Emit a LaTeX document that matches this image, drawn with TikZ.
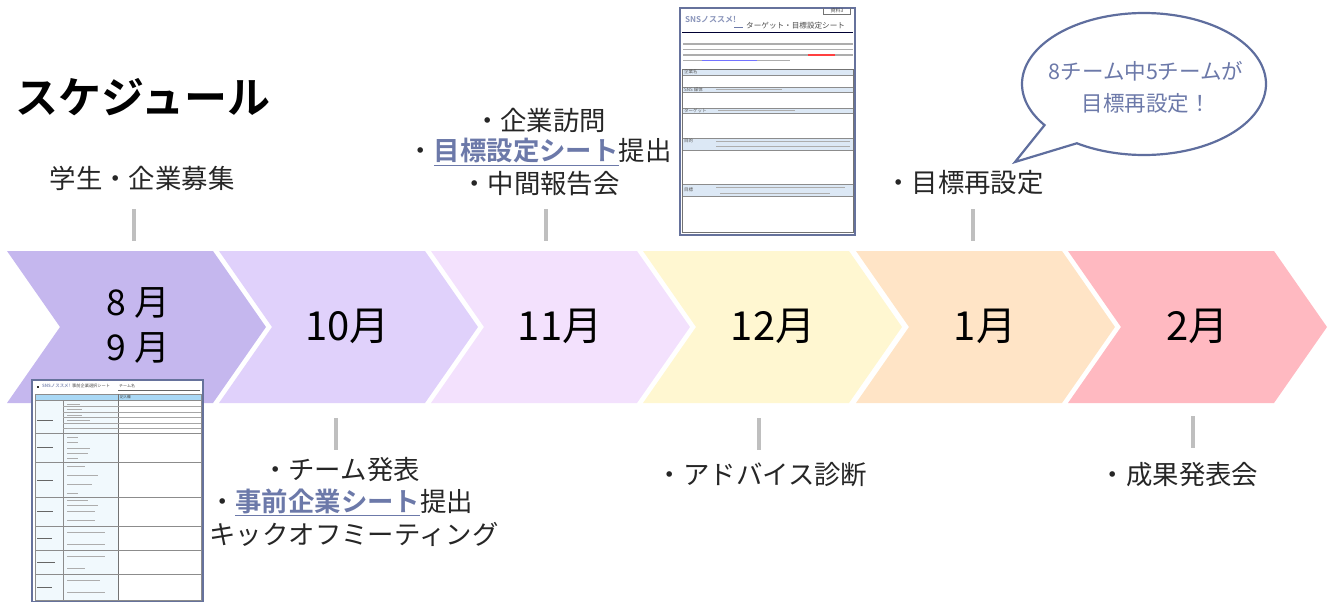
\documentclass[tikz,border=0pt]{standalone}
\usepackage{fontspec}
\setmainfont{Noto Sans CJK JP}[BoldFont={Noto Sans CJK JP Bold}]
\usetikzlibrary{calc}
\definecolor{cA}{HTML}{C5B7EE}
\definecolor{cB}{HTML}{E0D1FB}
\definecolor{cC}{HTML}{F3E1FD}
\definecolor{cD}{HTML}{FFF7D1}
\definecolor{cE}{HTML}{FFE4C6}
\definecolor{cF}{HTML}{FFB9C1}
\definecolor{accent}{HTML}{6C79A9}
\definecolor{bubbleline}{HTML}{5F6E9E}
\definecolor{sheetline}{HTML}{66729C}
\definecolor{tick}{HTML}{BFBFBF}
\definecolor{band}{HTML}{DCE8F5}
\definecolor{hdr}{HTML}{A9D8F5}
\definecolor{tint}{HTML}{F1F9FD}
\definecolor{tiny}{HTML}{8A8A8A}
\newcommand{\chev}[2]{\fill[#2] (#1,251) -- ++(206,0) -- ++(53,76) -- ++(-53,76) -- ++(-206,0) -- ++(53,-76) -- cycle;}
\newcommand{\hl}[1]{\textcolor{accent}{\underline{\textbf{#1}}}}
\tikzset{
  month/.style={font=\fontsize{40}{45}\selectfont,text=black,align=center,inner sep=0pt},
  monthsmall/.style={month,font=\fontsize{35.5}{45}\selectfont},
  label/.style={font=\fontsize{26.4}{32}\selectfont,text=black!85,inner sep=0pt,align=center},
  tickline/.style={draw=tick,line width=4pt},
  sheet/.style={draw=sheetline,line width=2pt,fill=white},
  tinytext/.style={font=\fontsize{4.5}{5}\selectfont,text=black!65,inner sep=0pt,anchor=west},
  blur/.style={draw=tiny!70,line width=1.2pt},
  grid/.style={draw=black!45,line width=.6pt}
}
\begin{document}
\begin{tikzpicture}[x=1pt,y=-1pt]
\useasboundingbox (0,0) rectangle (1336,602);
\chev{7}{cA}
\chev{219}{cB}
\chev{431}{cC}
\chev{643}{cD}
\chev{856}{cE}
\chev{1068}{cF}

\node[monthsmall] (m1) at (138,303) {8 月};
\node[monthsmall] (m2) at (138,348) {9 月};
\node[month] (m3) at (347.5,326) {10月};
\node[month] (m4) at (560,326) {11月};
\node[month] (m5) at (773,326) {12月};
\node[month] (m6) at (985,326) {1月};
\node[month] (m7) at (1197.5,326) {2月};

\node[font=\fontsize{43}{48}\selectfont\bfseries,inner sep=0pt,anchor=west] (title) at (15.5,97) {スケジュール};

\node[label] (a1) at (142,178) {学生・企業募集};
\node[label] (b1) at (540,120) {・企業訪問};
\node[label] (b2) at (539.5,152) {・\hl{目標設定シート}提出};
\node[label] (b3) at (540.5,184) {・中間報告会};
\node[label] (c1) at (964.5,183) {・目標再設定};
\node[label] (d1) at (341,470) {・チーム発表};
\node[label] (d2) at (341,502) {・\hl{事前企業シート}提出};
\node[label] (d3) at (354,534) {キックオフミーティング};
\node[label] (e1) at (762,475) {・アドバイス診断};
\node[label] (f1) at (1179,475) {・成果発表会};

\coordinate (t1a) at (134,209); \coordinate (t1b) at (134,241);
\coordinate (t2a) at (546,209); \coordinate (t2b) at (546,241);
\coordinate (t3a) at (973,209); \coordinate (t3b) at (973,241);
\coordinate (t4a) at (336,418); \coordinate (t4b) at (336,450);
\coordinate (t5a) at (759,418); \coordinate (t5b) at (759,450);
\coordinate (t6a) at (1193,416); \coordinate (t6b) at (1193,448);
\foreach \n in {1,...,6} \draw[tickline] (t\n a) -- (t\n b);

% speech bubble
\draw[bubbleline,line width=2.2pt,fill=white,line join=miter]
  plot[domain=123.4:-215.4,samples=160,smooth] ({1144+122*cos(\x)},{84+71*sin(\x)}) -- (1015,162) -- cycle;
\node[font=\fontsize{21.5}{32}\selectfont,text=accent,align=center,inner sep=0pt] (bub) at (1146,87) {8チーム中5チームが\\目標再設定！};

% sheet 1
\draw[sheet] (680,8) rectangle (855,235);
\draw[draw=black!55,line width=.7pt] (823,8) -- (823,14) -- (850,14) -- (850,8);
\node[font=\fontsize{5}{6}\selectfont,text=black!70,inner sep=0pt] (s1tag) at (837,10.5) {資料3};
\node[font=\fontsize{8}{9}\selectfont\bfseries,text=accent!80,inner sep=0pt,anchor=west] (s1logo) at (685,20) {SNSノススメ!};
\draw[accent,line width=.7pt] (734,27) -- (743,27);
\node[font=\fontsize{7.6}{9}\selectfont,text=black!70,inner sep=0pt,anchor=west] (s1title) at (746,26) {ターゲット・目標設定シート};
\draw[draw=black!80!blue,line width=1.6pt] (682,32.5) -- (853,32.5);
\foreach \y/\e in {44/853,49.5/853,55/853,60.5/790} \draw[blur] (683,\y) -- (\e,\y);
\draw[red!75,line width=1.4pt] (808,55) -- (835,55);
\draw[blue!55,line width=1.6pt] (702,60.5) -- (757,60.5);
\foreach \a/\b in {69/75,87/92,108/113,138/150,184/196} \fill[band] (682,\a) rectangle (853,\b);
\foreach \y in {69,75,87,92,108,113,138,150,184,196} \draw[black!45,line width=.6pt] (682,\y) -- (853,\y);
\draw[black!55,line width=.8pt] (682,69) rectangle (853,232);
\node[tinytext] (s1a) at (684,72) {企業名};
\node[tinytext] (s1b) at (684,89.5) {SNS 媒体};
\node[tinytext] (s1c) at (684,110.5) {ターゲット};
\node[tinytext] (s1d) at (684,141) {目的};
\node[tinytext] (s1e) at (684,190) {目標};
\draw[blur,line width=.8pt] (716,89.5) -- (782,89.5);
\draw[blur,line width=.8pt] (718,110.5) -- (795,110.5);
\draw[blur,line width=.8pt] (716,141) -- (850,141);
\draw[blur,line width=.8pt] (716,146.5) -- (850,146.5);
\draw[blur,line width=.8pt] (716,187.5) -- (845,187.5);
\draw[blur,line width=.8pt] (720,193) -- (830,193);

% sheet 2
\draw[sheet] (32,380) rectangle (203,602);
\fill[black!80] (37,385.5) rectangle (39,387.5);
\node[font=\fontsize{4.4}{5}\selectfont\bfseries,text=accent!80,inner sep=0pt,anchor=west] (s2logo) at (42,386) {SNSノススメ!};
\node[font=\fontsize{4.2}{5}\selectfont,text=black!70,inner sep=0pt,anchor=west] (s2title) at (72,386) {事前企業選択シート};
\node[font=\fontsize{4}{5}\selectfont,text=black!70,inner sep=0pt,anchor=west] (s2team) at (119,386) {チーム名};
\draw[black!60,line width=.9pt] (118,390) -- (200,390);
\fill[tint] (35,400) rectangle (118,600);
\fill[hdr] (35,394) rectangle (201,400);
\node[font=\fontsize{3.5}{4}\selectfont,text=black!75,inner sep=0pt,anchor=west] (s2col) at (120,397) {記入欄};
\draw[grid] (35,394) rectangle (201,600);
\draw[grid] (35,400) -- (201,400);
\draw[grid] (63,400) -- (63,600);
\draw[black!55,line width=1pt] (118,394) -- (118,600);
\foreach \y in {433,462,497,526,550,574} \draw[grid] (35,\y) -- (201,\y);
\foreach \y in {406,412,417,423,428} \draw[black!35,line width=.6pt] (63,\y) -- (201,\y);
\foreach \y/\e in {404/80,409/82,415/82,420/90,428/80,437/78,442/78,448/90,453/88,458/78,466/85,475/98,484/92,493/78,500/88,505/98,511/95,520/95,532/105,544/105,556/105,568/85,580/100,592/105}
  \draw[blur,line width=.8pt] (67,\y) -- (\e,\y);
\foreach \y/\e in {420/53,447/53,480/53,511/53,538/52,562/55,587/52} \draw[black!60,line width=1pt] (37,\y) -- (\e,\y);
\end{tikzpicture}
\end{document}
